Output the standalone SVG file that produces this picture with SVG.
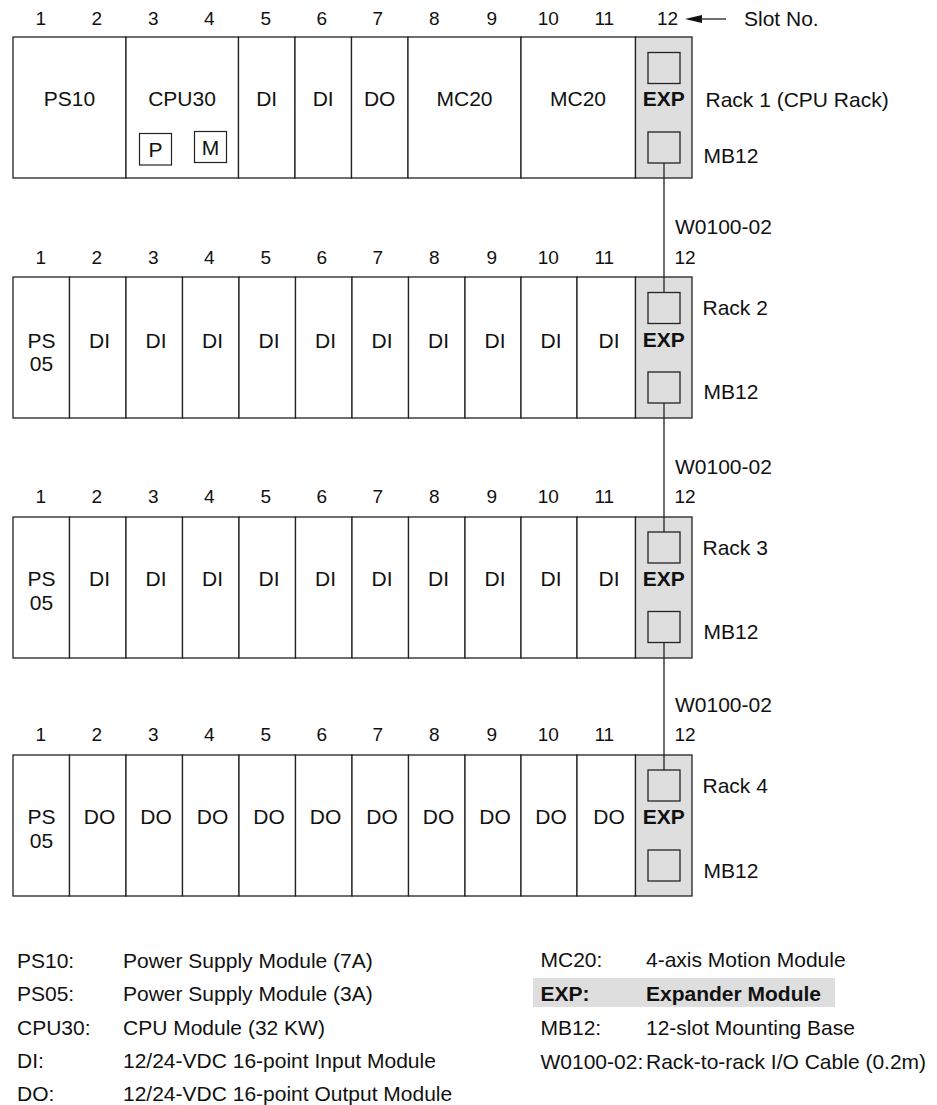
<svg xmlns="http://www.w3.org/2000/svg" width="937" height="1105" viewBox="0 0 937 1105">
<defs>
<style>
text{font-family:"Liberation Sans",Arial,Helvetica,sans-serif;font-size:21px;fill:#111}
.n{font-size:19px;text-anchor:middle}
.m{text-anchor:middle}
.b{font-weight:bold}
.box{fill:#fff;stroke:#222;stroke-width:1.3}
.exp{fill:#dedede;stroke:#222;stroke-width:1.3}
.sq{fill:#dedede;stroke:#222;stroke-width:1.3}
.pm{fill:#fff;stroke:#222;stroke-width:1.2}
.ln{stroke:#222;stroke-width:1.3;fill:none}
</style>
</defs>
<rect width="937" height="1105" fill="#fff"/>

<!-- Slot numbers -->
<g id="slot-numbers">
<g id="slots-r1">
<text class="n" x="40.7" y="25">1</text><text class="n" x="96.7" y="25">2</text><text class="n" x="153.3" y="25">3</text><text class="n" x="209.3" y="25">4</text><text class="n" x="265.7" y="25">5</text><text class="n" x="321.7" y="25">6</text><text class="n" x="377.7" y="25">7</text><text class="n" x="434.3" y="25">8</text><text class="n" x="491.7" y="25">9</text><text class="n" x="548.3" y="25">10</text><text class="n" x="604.3" y="25">11</text><text class="n" x="667.5" y="25">12</text>
<polygon points="685,19 702,15 702,23" fill="#111"/>
<line class="ln" x1="700" y1="19" x2="726" y2="19"/>
<text x="744" y="26">Slot No.</text>
</g>
<g id="slots-r2">
<text class="n" x="40.7" y="263.5">1</text><text class="n" x="96.7" y="263.5">2</text><text class="n" x="153.3" y="263.5">3</text><text class="n" x="209.3" y="263.5">4</text><text class="n" x="265.7" y="263.5">5</text><text class="n" x="321.7" y="263.5">6</text><text class="n" x="377.7" y="263.5">7</text><text class="n" x="434.3" y="263.5">8</text><text class="n" x="491.7" y="263.5">9</text><text class="n" x="548.3" y="263.5">10</text><text class="n" x="604.3" y="263.5">11</text><text class="n" x="685" y="263.5">12</text>
</g>
<g id="slots-r3">
<text class="n" x="40.7" y="503">1</text><text class="n" x="96.7" y="503">2</text><text class="n" x="153.3" y="503">3</text><text class="n" x="209.3" y="503">4</text><text class="n" x="265.7" y="503">5</text><text class="n" x="321.7" y="503">6</text><text class="n" x="377.7" y="503">7</text><text class="n" x="434.3" y="503">8</text><text class="n" x="491.7" y="503">9</text><text class="n" x="548.3" y="503">10</text><text class="n" x="604.3" y="503">11</text><text class="n" x="685" y="503">12</text>
</g>
<g id="slots-r4">
<text class="n" x="40.7" y="741">1</text><text class="n" x="96.7" y="741">2</text><text class="n" x="153.3" y="741">3</text><text class="n" x="209.3" y="741">4</text><text class="n" x="265.7" y="741">5</text><text class="n" x="321.7" y="741">6</text><text class="n" x="377.7" y="741">7</text><text class="n" x="434.3" y="741">8</text><text class="n" x="491.7" y="741">9</text><text class="n" x="548.3" y="741">10</text><text class="n" x="604.3" y="741">11</text><text class="n" x="685" y="741">12</text>
</g>
</g>

<!-- Rack 1 -->
<g id="rack1">
<g id="r1-ps10"><rect class="box" x="13" y="37" width="113" height="141"/><text class="m" x="69.5" y="106">PS10</text></g>
<g id="r1-cpu30"><rect class="box" x="126" y="37" width="112.5" height="141"/><text class="m" x="182" y="106">CPU30</text>
<rect class="pm" x="139.5" y="133.5" width="32" height="31.5"/><text class="m" x="155.5" y="156.5">P</text>
<rect class="pm" x="194.5" y="131.5" width="32" height="31"/><text class="m" x="210.5" y="155">M</text></g>
<g id="r1-di5"><rect class="box" x="238.5" y="37" width="56.5" height="141"/><text class="m" x="266.7" y="106">DI</text></g>
<g id="r1-di6"><rect class="box" x="295" y="37" width="56.5" height="141"/><text class="m" x="323.2" y="106">DI</text></g>
<g id="r1-do7"><rect class="box" x="351.5" y="37" width="56.5" height="141"/><text class="m" x="379.7" y="106">DO</text></g>
<g id="r1-mc20a"><rect class="box" x="408" y="37" width="113" height="141"/><text class="m" x="464.5" y="106">MC20</text></g>
<g id="r1-mc20b"><rect class="box" x="521" y="37" width="114.5" height="141"/><text class="m" x="578" y="106">MC20</text></g>
<g id="r1-exp"><rect class="exp" x="635.5" y="37" width="56.5" height="141"/>
<rect class="sq" x="648" y="52.5" width="32" height="31"/><rect class="sq" x="648" y="132" width="32" height="31"/>
<text class="m b" x="663.8" y="106">EXP</text></g>
<text x="705.5" y="106.5">Rack 1 (CPU Rack)</text>
<text x="703.5" y="163">MB12</text>
</g>

<!-- Rack 2 -->
<g id="rack2">
<g id="r2-ps05"><rect class="box" x="13" y="277" width="56.5" height="141"/><text class="m" x="41.5" y="347.5">PS</text><text class="m" x="41.5" y="371">05</text></g>
<g id="r2-di2"><rect class="box" x="69.5" y="277" width="56.5" height="141"/><text class="m" x="99.5" y="347.5">DI</text></g>
<g id="r2-di3"><rect class="box" x="126" y="277" width="56.5" height="141"/><text class="m" x="156" y="347.5">DI</text></g>
<g id="r2-di4"><rect class="box" x="182.5" y="277" width="56.5" height="141"/><text class="m" x="212.5" y="347.5">DI</text></g>
<g id="r2-di5"><rect class="box" x="239" y="277" width="56.5" height="141"/><text class="m" x="269" y="347.5">DI</text></g>
<g id="r2-di6"><rect class="box" x="295.5" y="277" width="56.5" height="141"/><text class="m" x="325.5" y="347.5">DI</text></g>
<g id="r2-di7"><rect class="box" x="352" y="277" width="56.5" height="141"/><text class="m" x="382" y="347.5">DI</text></g>
<g id="r2-di8"><rect class="box" x="408.5" y="277" width="56.5" height="141"/><text class="m" x="438.5" y="347.5">DI</text></g>
<g id="r2-di9"><rect class="box" x="465" y="277" width="56" height="141"/><text class="m" x="495" y="347.5">DI</text></g>
<g id="r2-di10"><rect class="box" x="521" y="277" width="56" height="141"/><text class="m" x="551" y="347.5">DI</text></g>
<g id="r2-di11"><rect class="box" x="577" y="277" width="58.5" height="141"/><text class="m" x="609" y="347.5">DI</text></g>
<g id="r2-exp"><rect class="exp" x="635.5" y="277" width="56.5" height="141"/>
<rect class="sq" x="648" y="292.5" width="32" height="31"/><rect class="sq" x="648" y="372" width="32" height="31"/>
<text class="m b" x="663.8" y="346.5">EXP</text></g>
<text x="702.5" y="315">Rack 2</text>
<text x="703.5" y="398.5">MB12</text>
</g>

<!-- Rack 3 -->
<g id="rack3">
<g id="r3-ps05"><rect class="box" x="13" y="517" width="56.5" height="141"/><text class="m" x="41.5" y="586">PS</text><text class="m" x="41.5" y="610">05</text></g>
<g id="r3-di2"><rect class="box" x="69.5" y="517" width="56.5" height="141"/><text class="m" x="99.5" y="586">DI</text></g>
<g id="r3-di3"><rect class="box" x="126" y="517" width="56.5" height="141"/><text class="m" x="156" y="586">DI</text></g>
<g id="r3-di4"><rect class="box" x="182.5" y="517" width="56.5" height="141"/><text class="m" x="212.5" y="586">DI</text></g>
<g id="r3-di5"><rect class="box" x="239" y="517" width="56.5" height="141"/><text class="m" x="269" y="586">DI</text></g>
<g id="r3-di6"><rect class="box" x="295.5" y="517" width="56.5" height="141"/><text class="m" x="325.5" y="586">DI</text></g>
<g id="r3-di7"><rect class="box" x="352" y="517" width="56.5" height="141"/><text class="m" x="382" y="586">DI</text></g>
<g id="r3-di8"><rect class="box" x="408.5" y="517" width="56.5" height="141"/><text class="m" x="438.5" y="586">DI</text></g>
<g id="r3-di9"><rect class="box" x="465" y="517" width="56" height="141"/><text class="m" x="495" y="586">DI</text></g>
<g id="r3-di10"><rect class="box" x="521" y="517" width="56" height="141"/><text class="m" x="551" y="586">DI</text></g>
<g id="r3-di11"><rect class="box" x="577" y="517" width="58.5" height="141"/><text class="m" x="609" y="586">DI</text></g>
<g id="r3-exp"><rect class="exp" x="635.5" y="517" width="56.5" height="141"/>
<rect class="sq" x="648" y="532" width="32" height="31"/><rect class="sq" x="648" y="611.5" width="32" height="31"/>
<text class="m b" x="663.8" y="586">EXP</text></g>
<text x="702.5" y="555">Rack 3</text>
<text x="703.5" y="638.5">MB12</text>
</g>

<!-- Rack 4 -->
<g id="rack4">
<g id="r4-ps05"><rect class="box" x="13" y="755" width="56.5" height="141"/><text class="m" x="41.5" y="823.5">PS</text><text class="m" x="41.5" y="847.5">05</text></g>
<g id="r4-do2"><rect class="box" x="69.5" y="755" width="56.5" height="141"/><text class="m" x="99.5" y="823.5">DO</text></g>
<g id="r4-do3"><rect class="box" x="126" y="755" width="56.5" height="141"/><text class="m" x="156" y="823.5">DO</text></g>
<g id="r4-do4"><rect class="box" x="182.5" y="755" width="56.5" height="141"/><text class="m" x="212.5" y="823.5">DO</text></g>
<g id="r4-do5"><rect class="box" x="239" y="755" width="56.5" height="141"/><text class="m" x="269" y="823.5">DO</text></g>
<g id="r4-do6"><rect class="box" x="295.5" y="755" width="56.5" height="141"/><text class="m" x="325.5" y="823.5">DO</text></g>
<g id="r4-do7"><rect class="box" x="352" y="755" width="56.5" height="141"/><text class="m" x="382" y="823.5">DO</text></g>
<g id="r4-do8"><rect class="box" x="408.5" y="755" width="56.5" height="141"/><text class="m" x="438.5" y="823.5">DO</text></g>
<g id="r4-do9"><rect class="box" x="465" y="755" width="56" height="141"/><text class="m" x="495" y="823.5">DO</text></g>
<g id="r4-do10"><rect class="box" x="521" y="755" width="56" height="141"/><text class="m" x="551" y="823.5">DO</text></g>
<g id="r4-do11"><rect class="box" x="577" y="755" width="58.5" height="141"/><text class="m" x="609" y="823.5">DO</text></g>
<g id="r4-exp"><rect class="exp" x="635.5" y="755" width="56.5" height="141"/>
<rect class="sq" x="648" y="770" width="32" height="31"/><rect class="sq" x="648" y="850" width="32" height="31"/>
<text class="m b" x="663.8" y="824">EXP</text></g>
<text x="702.5" y="793">Rack 4</text>
<text x="703.5" y="877.5">MB12</text>
</g>

<!-- Connectors -->
<g id="connectors">
<line class="ln" x1="664" y1="163" x2="664" y2="292.5"/>
<line class="ln" x1="664" y1="403" x2="664" y2="532"/>
<line class="ln" x1="664" y1="642.5" x2="664" y2="770"/>
<text x="675" y="234">W0100-02</text>
<text x="675" y="473.5">W0100-02</text>
<text x="675" y="712">W0100-02</text>
</g>

<!-- Legend -->
<g id="legend">
<rect x="533" y="978" width="302" height="29" fill="#dedede"/>
<text x="17" y="967.5">PS10:</text><text x="123" y="967.5">Power Supply Module (7A)</text>
<text x="17" y="1001">PS05:</text><text x="123" y="1001">Power Supply Module (3A)</text>
<text x="17" y="1034.5">CPU30:</text><text x="123" y="1034.5">CPU Module (32 KW)</text>
<text x="17" y="1068">DI:</text><text x="123" y="1068">12/24-VDC 16-point Input Module</text>
<text x="17" y="1101">DO:</text><text x="123" y="1101">12/24-VDC 16-point Output Module</text>
<text x="540.5" y="967">MC20:</text><text x="646" y="967">4-axis Motion Module</text>
<text class="b" x="540.5" y="1000.5">EXP:</text><text class="b" x="646" y="1000.5">Expander Module</text>
<text x="540.5" y="1035">MB12:</text><text x="646" y="1035">12-slot Mounting Base</text>
<text x="540.5" y="1068.5">W0100-02:</text><text x="646" y="1068.5">Rack-to-rack I/O Cable (0.2m)</text>
</g>
</svg>
